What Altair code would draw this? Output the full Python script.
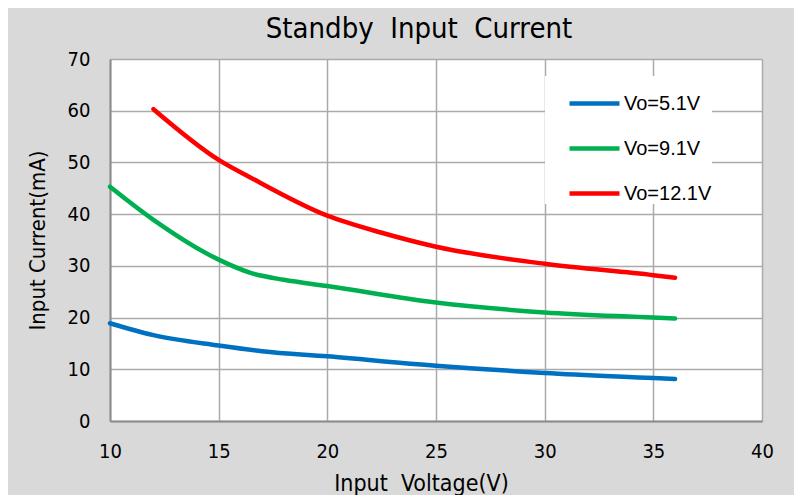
import altair as alt
import pandas as pd

series_names = ["Vo=5.1V", "Vo=9.1V", "Vo=12.1V"]
colors = ["#0070C0", "#00B050", "#FF0000"]

v51_x = [10, 12, 15, 17, 20, 25, 30, 35, 36]
v51_y = [18.9, 16.6, 14.6, 13.5, 12.5, 10.7, 9.3, 8.3, 8.1]

v91_x = [10, 12, 15, 16.5, 18, 20, 25, 30, 35, 36]
v91_y = [45.3, 38.9, 31.2, 28.6, 27.3, 26.1, 22.9, 21.0, 20.0, 19.8]

v121_x = [12, 15, 16.5, 20, 22.5, 25, 30, 35, 36]
v121_y = [60.3, 50.5, 47.0, 39.7, 36.4, 33.7, 30.4, 28.2, 27.7]

rows = []
for name, xs, ys in zip(series_names, [v51_x, v91_x, v121_x], [v51_y, v91_y, v121_y]):
    for i, (a, b) in enumerate(zip(xs, ys)):
        rows.append({"series": name, "v": a, "i": b, "order": i})
df = pd.DataFrame(rows)

narrow = "DejaVu Sans Condensed, sans-serif"

chart = alt.Chart(df).mark_line(strokeWidth=4.5, interpolate="monotone", strokeCap="round").encode(
    x=alt.X("v:Q", scale=alt.Scale(domain=[10, 40], nice=False),
            axis=alt.Axis(values=[10, 15, 20, 25, 30, 35, 40], title="Input\u00a0 Voltage(V)",
                          labelPadding=20, titlePadding=11, labelFlush=False, titleX=311,
                          titleFontSize=23)),
    y=alt.Y("i:Q", scale=alt.Scale(domain=[0, 70], nice=False),
            axis=alt.Axis(values=[0, 10, 20, 30, 40, 50, 60, 70], title="Input Current(mA)",
                          labelPadding=20, titlePadding=18, titleFontSize=22)),
    color=alt.Color("series:N", scale=alt.Scale(domain=series_names, range=colors),
                    legend=alt.Legend(title=None, orient="none", legendX=435, legendY=17,
                                      fillColor="white", padding=0, symbolType="stroke",
                                      symbolSize=2500, symbolStrokeWidth=4.5, symbolOffset=22,
                                      labelOffset=2, rowPadding=7, labelFontSize=20,
                                      labelFont="Liberation Sans", labelColor="black",
                                      labelExpr="datum.label + '\u00a0\u00a0\u00a0\u00a0\u00a0\u00a0'")),
    order="order:Q",
).properties(
    width=652, height=362,
    title=alt.TitleParams("Standby\u00a0 Input\u00a0 Current", fontSize=29, font=narrow,
                          fontWeight="normal", color="black", offset=5, dx=-17),
    background="#d9d9d9",
    autosize=alt.AutoSizeParams(type="none"),
    padding={"left": 102, "top": 51, "right": 32, "bottom": 74},
).configure_view(
    fill="white", stroke=None
).configure_axis(
    grid=True, gridColor="#aaaaaa", gridWidth=1.5, domainColor="#8c8c8c", domainWidth=2,
    ticks=False, labelFont=narrow, labelFontSize=20, labelColor="black",
    titleFont=narrow, titleFontWeight="normal", titleColor="black",
)

chart.save("out.html", embed_options={"renderer": "svg", "actions": False})
